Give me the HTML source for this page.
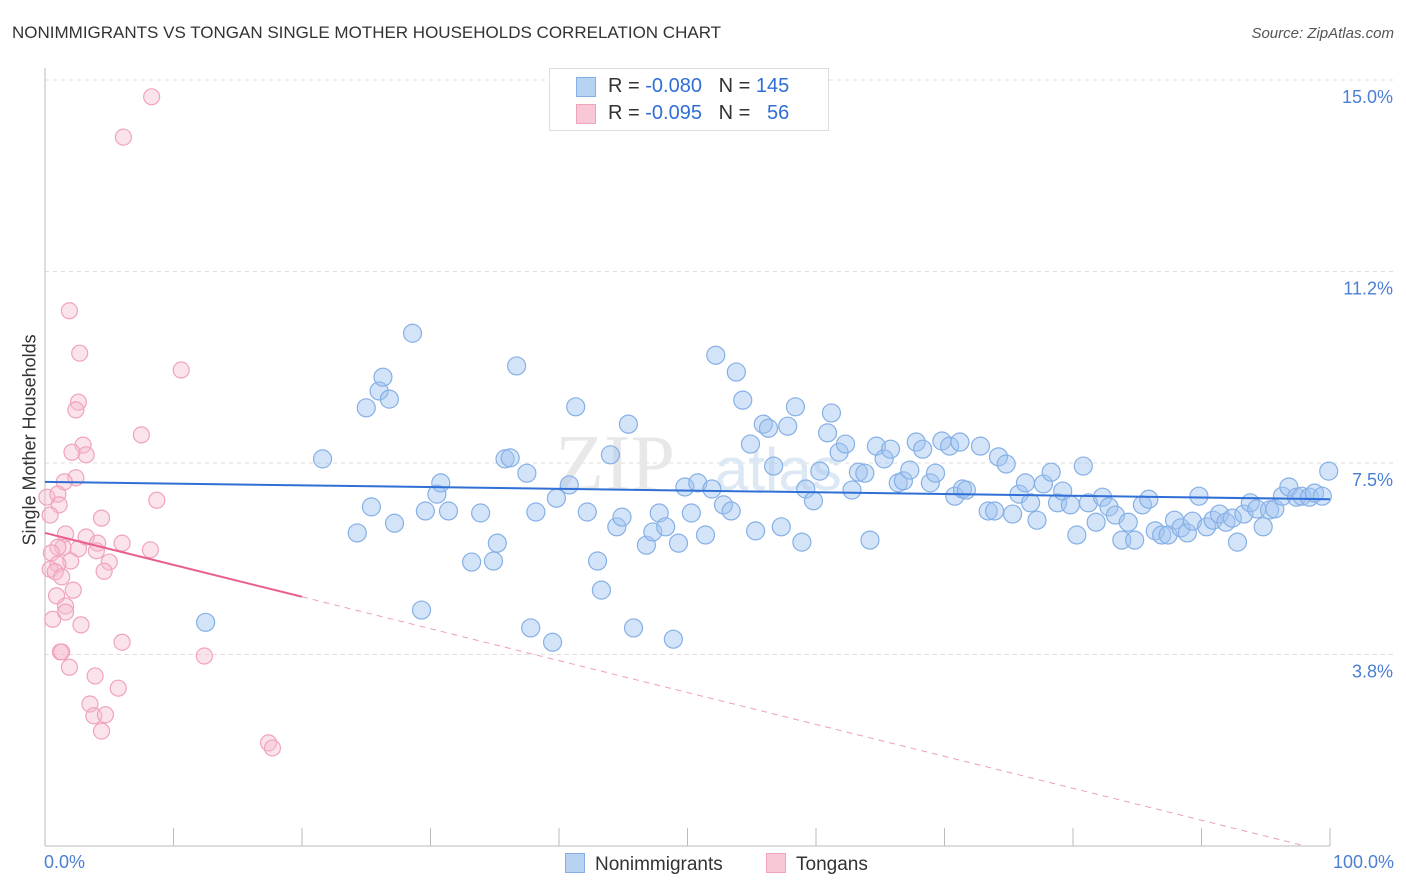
<!DOCTYPE html>
<html><head><meta charset="utf-8"><style>
body{margin:0;background:#fff;font-family:"Liberation Sans",sans-serif;}
#wrap{position:relative;width:1406px;height:892px;}
.t{position:absolute;white-space:nowrap;}
</style></head><body>
<div id="wrap">
<div class="t" style="left:12px;top:23px;font-size:17px;color:#333;">NONIMMIGRANTS VS TONGAN SINGLE MOTHER HOUSEHOLDS CORRELATION CHART</div>
<div class="t" style="right:12px;top:25px;font-size:15px;color:#555;font-style:italic;">Source: ZipAtlas.com</div>
<svg id="svg" width="1406" height="892" style="position:absolute;left:0;top:0"></svg>
</div>
<script>
const blueX=[12.5,21.6,24.3,25.0,25.4,26.0,26.3,26.8,27.2,28.6,29.3,29.6,30.5,30.8,31.4,33.2,33.9,34.9,35.2,35.8,36.2,36.7,37.5,37.8,38.2,39.5,39.8,40.8,41.3,42.2,43.0,43.3,44.0,44.5,44.9,45.4,45.8,46.8,47.3,47.8,48.3,48.9,49.3,49.8,50.3,50.8,51.4,51.9,52.2,52.8,53.4,53.8,54.3,54.9,55.3,55.9,56.3,56.7,57.3,57.8,58.4,58.9,59.2,59.8,60.3,60.9,61.2,61.8,62.3,62.8,63.3,63.8,64.2,64.7,65.3,65.8,66.4,66.8,67.3,67.8,68.3,68.9,69.3,69.8,70.4,70.8,71.4,71.7,71.2,72.8,73.4,73.9,74.2,74.8,75.3,75.8,76.3,76.7,77.2,77.7,78.3,78.8,79.2,79.8,80.3,80.8,81.2,81.8,82.3,82.8,83.3,83.8,84.3,84.8,85.4,85.9,86.4,86.9,87.4,87.9,88.4,88.9,89.3,89.8,90.4,90.9,91.4,91.9,92.4,92.8,93.3,93.8,94.3,94.8,95.3,95.7,96.3,96.8,97.4,97.8,98.4,98.8,99.4,99.9];
const blueY=[4.38,7.58,6.13,8.58,6.64,8.91,9.18,8.75,6.32,10.04,4.62,6.56,6.89,7.11,6.56,5.56,6.52,5.58,5.93,7.58,7.60,9.40,7.30,4.27,6.54,3.99,6.81,7.07,8.60,6.54,5.58,5.01,7.66,6.25,6.44,8.26,4.27,5.89,6.15,6.52,6.25,4.05,5.93,7.03,6.52,7.11,6.09,6.99,9.61,6.68,6.56,9.28,8.73,7.87,6.17,8.26,8.18,7.44,6.25,8.22,8.60,5.95,6.99,6.76,7.34,8.09,8.48,7.71,7.87,6.97,7.32,7.30,5.99,7.83,7.58,7.77,7.11,7.15,7.36,7.91,7.77,7.11,7.30,7.93,7.83,6.85,6.99,6.97,7.91,7.83,6.56,6.56,7.62,7.48,6.50,6.89,7.11,6.72,6.38,7.09,7.32,6.72,6.95,6.68,6.09,7.44,6.72,6.34,6.83,6.64,6.48,5.99,6.34,5.99,6.68,6.79,6.17,6.09,6.09,6.38,6.23,6.13,6.36,6.85,6.25,6.38,6.50,6.34,6.42,5.95,6.50,6.72,6.60,6.25,6.58,6.60,6.85,7.03,6.83,6.85,6.83,6.91,6.85,7.34];
const pinkX=[8.3,6.1,1.9,2.7,10.6,2.6,2.4,7.5,2.96,3.2,2.1,2.4,1.5,8.7,0.15,1.0,1.1,0.4,4.4,1.6,3.2,6.0,4.1,1.4,1.0,2.6,8.2,4.0,0.5,2.0,5.0,1.0,0.4,4.6,0.8,1.3,2.2,0.9,1.6,1.6,0.6,2.8,6.0,1.2,1.3,12.4,1.9,3.9,5.7,3.5,3.8,4.7,4.4,17.4,17.7];
const pinkY=[14.67,13.88,10.48,9.65,9.32,8.69,8.54,8.05,7.85,7.66,7.71,7.21,7.13,6.77,6.83,6.89,6.68,6.48,6.42,6.11,6.05,5.93,5.93,5.85,5.85,5.82,5.80,5.78,5.74,5.58,5.56,5.52,5.42,5.38,5.37,5.27,5.01,4.90,4.70,4.58,4.44,4.33,3.99,3.80,3.80,3.72,3.50,3.33,3.09,2.78,2.55,2.57,2.25,2.02,1.92];
const yTicks=[3.8,7.5,11.2,15.0];
const yTickLabels=["3.8%","7.5%","11.2%","15.0%"];
const blueFit=[7.13,6.79];
const pinkFit=[6.13,-0.0625];
const NS="http://www.w3.org/2000/svg";
const svg=document.getElementById('svg');
const sx=v=>45+v*12.85, sy=v=>846-v*51.07;
function mk(tag,attrs){const e=document.createElementNS(NS,tag);for(const k in attrs)e.setAttribute(k,attrs[k]);svg.appendChild(e);return e;}
// grid
yTicks.forEach((t,i)=>{const yy=sy(t===3.8?3.75:t===11.2?11.25:t);
const g=mk('line',{x1:45,x2:1393,y1:yy,y2:yy,stroke:'#ddd','stroke-dasharray':'4,4'});


const tx=mk('text',{x:1393,y:yy+23,'text-anchor':'end','font-size':18,fill:'#4a7fd4','font-family':'Liberation Sans, sans-serif'});
tx.textContent=yTickLabels[i];

});
// axes
const ax=mk('line',{x1:45,x2:1330,y1:846,y2:846,stroke:'#bbb'});


const ay=mk('line',{x1:45,x2:45,y1:68,y2:846,stroke:'#bbb'});


for(let i=0;i<=10;i++){const t=mk('line',{x1:sx(i*10),x2:sx(i*10),y1:828,y2:846,stroke:'#bbb'});

}
// watermark
const wm=mk('text',{x:555,y:490,'font-size':80,fill:'#e8e8e8','font-family':'Liberation Serif, serif'});wm.textContent='ZIP';


const wm2=mk('text',{x:715,y:490,'font-size':60,fill:'#dde8f5','font-family':'Liberation Sans, sans-serif'});wm2.textContent='atlas';


// points
blueX.forEach((x,i)=>{const c=mk('circle',{cx:sx(x),cy:sy(blueY[i]),r:9,fill:'rgba(160,196,240,0.45)',stroke:'#85b0e6','stroke-width':1.2});

});
pinkX.forEach((x,i)=>{const c=mk('circle',{cx:sx(x),cy:sy(pinkY[i]),r:8,fill:'rgba(245,185,205,0.4)',stroke:'#f0a3bc','stroke-width':1.2});

});
// fits
const bl=mk('line',{x1:sx(0),y1:sy(blueFit[0]),x2:sx(100),y2:sy(blueFit[1]),stroke:'#2f6fd6','stroke-width':2});


const pf=x=>pinkFit[0]+pinkFit[1]*x;
const pl=mk('line',{x1:sx(0),y1:sy(pf(0)),x2:sx(20),y2:sy(pf(20)),stroke:'#e8608a','stroke-width':2});


const xe=-pinkFit[0]/pinkFit[1];
const pd=mk('line',{x1:sx(20),y1:sy(pf(20)),x2:sx(xe),y2:sy(0),stroke:'#eba0b8','stroke-width':1,'stroke-dasharray':'6,5'});


</script>
<div class="t" style="left:-60px;top:445px;transform:rotate(-90deg);font-size:18px;color:#333;width:180px;text-align:center;">Single Mother Households</div>
<div class="t" style="left:44px;top:852px;font-size:18px;color:#4a7fd4;">0.0%</div>
<div class="t" style="right:12px;top:852px;font-size:18px;color:#4a7fd4;">100.0%</div>
<div style="position:absolute;left:549px;top:68px;width:278px;height:61px;border:1px solid #ddd;background:#fff;font-size:20px;color:#333;">
<div style="position:absolute;left:26px;top:8px;width:18px;height:18px;background:#b8d2f2;border:1px solid #85b0e6"></div>
<div class="t" style="left:58px;top:6px">R = <span style="color:#2f6fd6">-0.080</span>&nbsp;&nbsp;&nbsp;N = <span style="color:#2f6fd6">145</span></div>
<div style="position:absolute;left:26px;top:35px;width:18px;height:18px;background:#f8c8d6;border:1px solid #f0a3bc"></div>
<div class="t" style="left:58px;top:33px">R = <span style="color:#2f6fd6">-0.095</span>&nbsp;&nbsp;&nbsp;N = &nbsp;&nbsp;<span style="color:#2f6fd6">56</span></div>
</div>
<div style="position:absolute;left:565px;top:853px;font-size:19px;color:#333;">
<span style="display:inline-block;width:18px;height:18px;background:#b8d2f2;border:1px solid #85b0e6;vertical-align:-3px;margin-right:10px"></span>Nonimmigrants</div>
<div style="position:absolute;left:766px;top:853px;font-size:19px;color:#333;">
<span style="display:inline-block;width:18px;height:18px;background:#f8c8d6;border:1px solid #f0a3bc;vertical-align:-3px;margin-right:10px"></span>Tongans</div>
</body></html>
